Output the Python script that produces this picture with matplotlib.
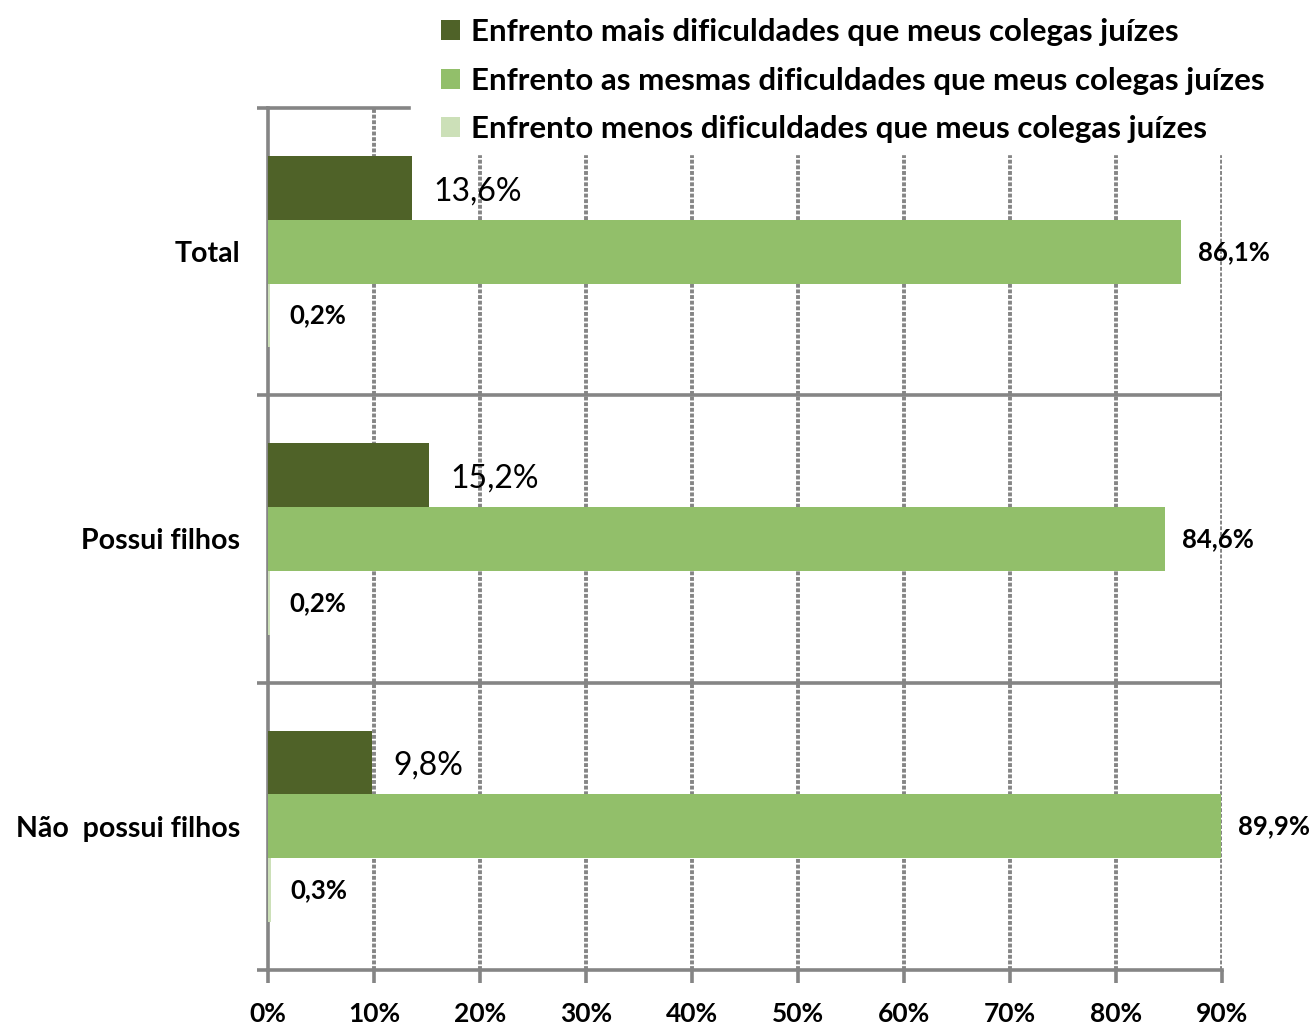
import matplotlib.pyplot as plt
import numpy as np

plt.rcParams['font.family'] = ['Lato', 'DejaVu Sans']

# data
categories = ['Total', 'Possui filhos', 'Não  possui filhos']
series_names = ['Enfrento mais dificuldades que meus colegas juízes',
                'Enfrento as mesmas dificuldades que meus colegas juízes',
                'Enfrento menos dificuldades que meus colegas juízes']
mais = [13.6, 15.2, 9.8]
mesmas = [86.1, 84.6, 89.9]
menos = [0.2, 0.2, 0.3]
colors = ['#4F6228', '#92BF6A', '#CCE0B8']
x_ticks = [0, 10, 20, 30, 40, 50, 60, 70, 80, 90]

fig = plt.figure(figsize=(13.11, 10.25), dpi=100)
ax = fig.add_axes([0.2044, 0.0537, 0.7277, 0.8409])

grey = '#858585'
pos = np.array([2, 1, 0])  # Total on top
h = 0.222

for i, vals in enumerate([mais, mesmas, menos]):
    y = pos + h * (1 - i)
    ax.barh(y, vals, height=h, color=colors[i], label=series_names[i], zorder=3)

# value labels
for j in range(3):
    ax.text(mais[j] + 2.0, pos[j] + h * 0.95, f'{mais[j]:.1f}%'.replace('.', ','),
            va='center', ha='left', fontsize=23)
    ax.text(mesmas[j] + 1.6, pos[j], f'{mesmas[j]:.1f}%'.replace('.', ','),
            va='center', ha='left', fontsize=18.5, fontweight='bold')
    ax.text(menos[j] + 1.8, pos[j] - h, f'{menos[j]:.1f}%'.replace('.', ','),
            va='center', ha='left', fontsize=18.5, fontweight='bold')

ax.set_xlim(0, 90)
ax.set_ylim(-0.5, 2.5)

# vertical dashed gridlines
for xv in x_ticks[1:]:
    ax.axvline(xv, color=grey, lw=2.8, ls=(0, (1.0, 0.45)), zorder=1)
# category separators
for yv in [0.5, 1.5]:
    ax.axhline(yv, color=grey, lw=2.6, zorder=2)

for s in ['top', 'right']:
    ax.spines[s].set_visible(False)
for s in ['left', 'bottom']:
    ax.spines[s].set_color(grey)
    ax.spines[s].set_linewidth(2.6)
ax.axhline(2.5, xmin=0, xmax=0.148, color=grey, lw=2.6, zorder=2, clip_on=False)

ax.set_xticks(x_ticks)
ax.set_xticklabels([f'{t}%' for t in x_ticks], fontsize=19, fontweight='bold')
ax.tick_params(axis='x', length=9, width=2.6, color=grey, pad=14)

ax.set_yticks([-0.5, 0.5, 1.5, 2.5])
ax.set_yticklabels([])
ax.tick_params(axis='y', which='major', length=8, width=2.6, color=grey)
ax.set_yticks(pos, minor=True)
ax.set_yticklabels(categories, minor=True, fontsize=20.5, fontweight='bold')
ax.tick_params(axis='y', which='minor', length=0, pad=20)

leg = fig.legend(loc='upper left', bbox_to_anchor=(0.328, 0.993), frameon=True,
                 prop={'size': 22.5, 'weight': 'bold'}, handlelength=0.6,
                 handleheight=0.6, handletextpad=0.35, labelspacing=0.66,
                 borderpad=0.35, borderaxespad=0, fancybox=False)
leg.get_frame().set_facecolor('white')
leg.get_frame().set_edgecolor('white')
leg.get_frame().set_alpha(1)

fig.savefig('out.png', dpi=100)
